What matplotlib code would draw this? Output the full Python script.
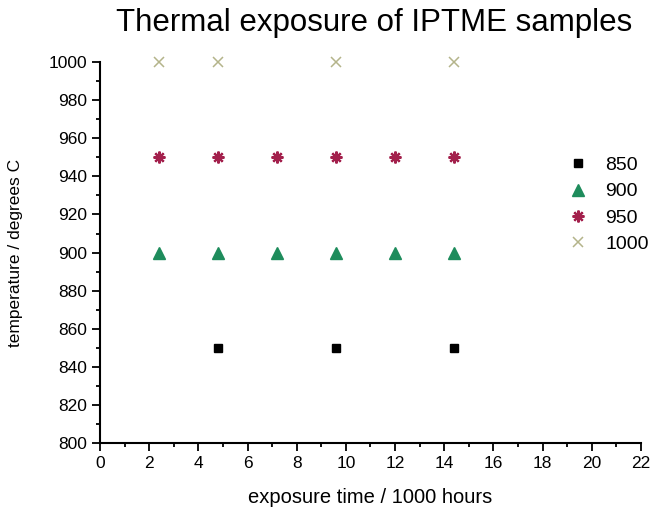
import matplotlib.pyplot as plt
from matplotlib.ticker import MultipleLocator

plt.rcParams['font.family'] = ['Liberation Sans', 'DejaVu Sans']

# exposure times (1000 hours) for each temperature
t_850 = [4.8, 9.6, 14.4]
t_900 = [2.4, 4.8, 7.2, 9.6, 12.0, 14.4]
t_950 = [2.4, 4.8, 7.2, 9.6, 12.0, 14.4]
t_1000 = [2.4, 4.8, 9.6, 14.4]

fig = plt.figure(figsize=(6.58, 5.16), dpi=100)
ax = fig.add_axes([0.152, 0.141, 0.822, 0.739])

ax.plot(t_850, [850] * len(t_850), 's', color='black', ms=6, label='850', clip_on=False)
ax.plot(t_900, [900] * len(t_900), '^', color='#1e8c5c', ms=8, label='900', clip_on=False)
ax.plot(t_950, [950] * len(t_950), marker=(8, 2, 0), ls='none', color='#a3204c',
        ms=8.5, mew=1.6, label='950', clip_on=False)
ax.plot(t_1000, [1000] * len(t_1000), 'x', color='#b4b48a', ms=7, mew=1.1, label='1000',
        clip_on=False)

ax.set_xlim(0, 22)
ax.set_ylim(800, 1000)
ax.xaxis.set_major_locator(MultipleLocator(2))
ax.xaxis.set_minor_locator(MultipleLocator(1))
ax.yaxis.set_major_locator(MultipleLocator(20))
ax.yaxis.set_minor_locator(MultipleLocator(10))
ax.tick_params(which='major', direction='out', length=6, width=1.3, labelsize=12.5)
ax.tick_params(which='minor', direction='out', length=3, width=1.3)
for s in ['top', 'right']:
    ax.spines[s].set_visible(False)
for s in ['left', 'bottom']:
    ax.spines[s].set_linewidth(1.5)

ax.set_xlabel('exposure time / 1000 hours', fontsize=14.5, labelpad=12)
ax.set_ylabel('temperature / degrees C', fontsize=12.5, labelpad=18)
fig.suptitle('Thermal exposure of IPTME samples', fontsize=22.5, x=0.568, y=0.985)

ax.legend(loc='upper left', bbox_to_anchor=(0.83, 0.798), frameon=False,
          fontsize=14, handletextpad=0.8, labelspacing=0.45, handlelength=1.2)

plt.savefig('out.png')
